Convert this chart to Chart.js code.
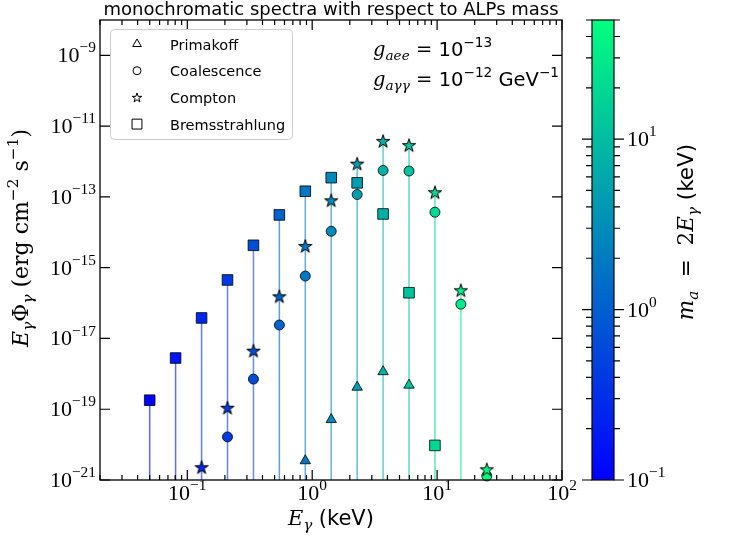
<!DOCTYPE html>
<html>
<head>
<meta charset="utf-8">
<script src="https://cdn.jsdelivr.net/npm/chart.js@4.4.1/dist/chart.umd.min.js"></script>
<style>
  body { margin: 0; background: #fff; }
</style>
</head>
<body>
<canvas id="chart" width="732" height="541"></canvas>
<script>
// photon energies E_gamma (keV), one per ALP mass m_a = 2 E_gamma
var energies = [0.05, 0.0806, 0.1301, 0.2098, 0.3385, 0.5459, 0.8804, 1.4201, 2.2904, 3.6942, 5.9584, 9.6101, 15.5, 25.0];

// E_gamma * Phi_gamma (erg cm^-2 s^-1), null = below the plot
var primakoff   = [null, null, null, null, null, null, 3.5e-21, 5.1e-20, 4.2e-19, 1.15e-18, 4.8e-19, null, null, null];
var coalescence = [null, null, null, 1.65e-20, 7.1e-19, 2.4e-17, 5.8e-16, 1.07e-14, 1.17e-13, 5.6e-13, 5.4e-13, 3.7e-14, 9.3e-17, 1.3e-21];
var compton     = [null, null, 2.3e-21, 1.1e-19, 4.5e-18, 1.55e-16, 4.1e-15, 8e-14, 8.7e-13, 3.8e-12, 2.9e-12, 1.35e-13, 2.3e-16, 2e-21];
var brems       = [1.8e-19, 2.8e-18, 3.8e-17, 4.5e-16, 4.3e-15, 3.1e-14, 1.45e-13, 3.5e-13, 2.5e-13, 3.3e-14, 1.96e-16, 9.5e-21, null, null];

var xTicks = [0.1, 1, 10, 100];
var yTicks = [1e-21, 1e-19, 1e-17, 1e-15, 1e-13, 1e-11, 1e-9];
var cbTicks = [0.1, 1, 10];
var xRange = [0.02, 100];
var yRange = [1e-21, 1e-8];
var massRange = [0.1, 50];

var SERIF = '"Liberation Serif", serif';
var WSERIF = '"DejaVu Serif", serif';
var SANS = '"DejaVu Sans", sans-serif';

// matplotlib "winter": blue -> spring green
function winter(m, alpha) {
    var t = Math.log(m / massRange[0]) / Math.log(massRange[1] / massRange[0]);
    t = Math.min(1, Math.max(0, t));
    var g = Math.round(255 * t), b = Math.round(255 * (1 - 0.5 * t));
    return 'rgba(0,' + g + ',' + b + ',' + (alpha == null ? 1 : alpha) + ')';
}

function starPath(ctx, x, y, r) {
    ctx.beginPath();
    for (var k = 0; k < 10; k++) {
        var rr = k % 2 ? r * 0.382 : r;
        var a = -Math.PI / 2 + k * Math.PI / 5;
        ctx.lineTo(x + rr * Math.cos(a), y + rr * Math.sin(a));
    }
    ctx.closePath();
}

function starImage(color) {
    var c = document.createElement('canvas');
    c.width = 18; c.height = 18;
    var g = c.getContext('2d');
    starPath(g, 9, 9.6, 7);
    g.fillStyle = color; g.fill();
    g.lineWidth = 1; g.strokeStyle = '#000'; g.stroke();
    return c;
}

function points(vals) {
    var out = [];
    vals.forEach(function (v, i) {
        if (v != null) out.push({x: energies[i], y: v});
    });
    return out;
}

function markerSet(label, vals, style, radius, order) {
    var pts = points(vals);
    return {
        label: label,
        data: pts,
        showLine: false,
        pointStyle: style === 'star' ? pts.map(function (p) { return starImage(winter(2 * p.x)); }) : style,
        pointRadius: radius,
        pointBackgroundColor: pts.map(function (p) { return winter(2 * p.x); }),
        pointBorderColor: '#000',
        pointBorderWidth: 0.8,
        clip: false,
        order: order
    };
}

var datasets = [];
// stems from the bottom of the axes up to the highest marker
energies.forEach(function (e, i) {
    var top = Math.max.apply(null, [primakoff[i], coalescence[i], compton[i], brems[i]].filter(function (v) { return v != null; }));
    datasets.push({
        type: 'line',
        label: 'stem' + i,
        data: [{x: e, y: yRange[0]}, {x: e, y: top}],
        borderColor: winter(2 * e, 0.62),
        borderWidth: 1.5,
        pointRadius: 0,
        order: 10
    });
});
datasets.push(markerSet('Primakoff', primakoff, 'triangle', 6, 4));
datasets.push(markerSet('Coalescence', coalescence, 'circle', 5, 3));
datasets.push(markerSet('Compton', compton, 'star', 6, 2));
datasets.push(markerSet('Bremsstrahlung', brems, 'rect', 7.5, 1));

// little text helper for the mathtext-like labels
// s: sans, w: wide serif, i: italic, p: 1 superscript / -1 subscript
function segFont(s, size) {
    var sz = s.p ? size * 0.7 : size;
    var fam = s.s ? SANS : (s.w ? WSERIF : SERIF);
    return (s.i ? 'italic ' : '') + sz + 'px ' + fam;
}
function richWidth(ctx, segs, size) {
    var w = 0;
    segs.forEach(function (s) { ctx.font = segFont(s, size); w += ctx.measureText(s.t).width; });
    return w;
}
function drawRich(ctx, segs, x, y, size, align) {
    var w = richWidth(ctx, segs, size);
    var cx = align === 'center' ? x - w / 2 : (align === 'right' ? x - w : x);
    ctx.textAlign = 'left';
    ctx.textBaseline = 'alphabetic';
    segs.forEach(function (s) {
        ctx.font = segFont(s, size);
        var dy = s.p === 1 ? -0.45 * size : (s.p === -1 ? 0.22 * size : 0);
        ctx.fillText(s.t, cx, y + dy);
        cx += ctx.measureText(s.t).width;
    });
}
function powLabel(v) {
    var e = Math.round(Math.log10(v));
    return [{t: '10'}, {t: String(e).replace('-', '\u2212'), p: 1}];
}

var decorations = {
    id: 'decorations',
    afterDraw: function (chart) {
        var ctx = chart.ctx, a = chart.chartArea;
        var xs = chart.scales.x, ys = chart.scales.y, cb = chart.scales.cb;
        ctx.save();
        ctx.fillStyle = '#000';
        ctx.strokeStyle = '#000';

        // frame
        ctx.lineWidth = 1.3;
        ctx.strokeRect(a.left, a.top, a.right - a.left, a.bottom - a.top);

        // ticks, inward on all four sides
        ctx.lineWidth = 1.2;
        ctx.beginPath();
        for (var d = 0.01; d < 200; d *= 10) {
            for (var k = 1; k < 10; k++) {
                var v = k * d;
                if (v < xRange[0] * 0.999 || v > xRange[1] * 1.001) continue;
                var px = xs.getPixelForValue(v);
                var len = k === 1 ? 10 : 5;
                ctx.moveTo(px, a.bottom); ctx.lineTo(px, a.bottom - len);
                ctx.moveTo(px, a.top); ctx.lineTo(px, a.top + len);
            }
        }
        yTicks.forEach(function (v) {
            var py = ys.getPixelForValue(v);
            ctx.moveTo(a.left, py); ctx.lineTo(a.left + 10, py);
            ctx.moveTo(a.right, py); ctx.lineTo(a.right - 10, py);
        });
        ctx.stroke();

        // tick labels
        yTicks.forEach(function (v) {
            drawRich(ctx, powLabel(v), 96, ys.getPixelForValue(v) + 7, 22, 'right');
        });
        xTicks.forEach(function (v) {
            drawRich(ctx, powLabel(v), xs.getPixelForValue(v), 500, 22, 'center');
        });

        // axis labels
        var cxm = (a.left + a.right) / 2;
        drawRich(ctx, [{t: 'E', i: 1, w: 1}, {t: '\u03b3', i: 1, w: 1, p: -1}, {t: ' (keV)', s: 1}], cxm, 525, 21, 'center');
        ctx.save();
        ctx.translate(28, 238);
        ctx.rotate(-Math.PI / 2);
        drawRich(ctx, [{t: 'E', i: 1, w: 1}, {t: '\u03b3', i: 1, w: 1, p: -1}, {t: '\u03a6', w: 1}, {t: '\u03b3', i: 1, w: 1, p: -1},
            {t: ' (erg cm', w: 1}, {t: '\u22122', w: 1, p: 1}, {t: ' s', w: 1}, {t: '\u22121', w: 1, p: 1}, {t: ')', w: 1}], 0, 0, 22, 'center');
        ctx.restore();

        // title
        ctx.font = '18px ' + SANS;
        ctx.textAlign = 'center';
        ctx.textBaseline = 'alphabetic';
        ctx.fillText('monochromatic spectra with respect to ALPs mass', cxm, 15);

        // coupling annotation
        drawRich(ctx, [{t: 'g', i: 1, w: 1}, {t: 'aee', i: 1, w: 1, p: -1}, {t: ' = ', w: 1}, {t: '10', s: 1}, {t: '\u221213', s: 1, p: 1}], 373, 56, 19.5, 'left');
        drawRich(ctx, [{t: 'g', i: 1, w: 1}, {t: 'a\u03b3\u03b3', i: 1, w: 1, p: -1}, {t: ' = ', w: 1}, {t: '10', s: 1}, {t: '\u221212', s: 1, p: 1},
            {t: ' GeV', s: 1}, {t: '\u22121', s: 1, p: 1}], 373, 86, 19.5, 'left');

        // legend
        var lx = 110, ly = 29, lw = 182, lh = 110;
        ctx.lineWidth = 1;
        ctx.beginPath();
        ctx.roundRect(lx + 0.5, ly + 0.5, lw, lh, 4);
        ctx.fillStyle = 'rgba(255,255,255,0.85)';
        ctx.fill();
        ctx.strokeStyle = '#cccccc';
        ctx.stroke();
        var names = ['Primakoff', 'Coalescence', 'Compton', 'Bremsstrahlung'];
        var styles = ['triangle', 'circle', 'star', 'rect'];
        var radii = [5, 4, 5, 7];
        names.forEach(function (n, j) {
            var ry = 44 + j * 26.7;
            ctx.strokeStyle = '#000';
            ctx.lineWidth = 1;
            if (styles[j] === 'star') {
                starPath(ctx, 137, ry + 0.5, radii[j]);
                ctx.stroke();
            } else {
                ctx.fillStyle = 'rgba(0,0,0,0)';
                Chart.helpers.drawPoint(ctx, {pointStyle: styles[j], radius: radii[j], borderWidth: 1}, 137, ry);
            }
            ctx.fillStyle = '#000';
            ctx.font = '14.5px ' + SANS;
            ctx.textAlign = 'left';
            ctx.fillText(n, 170, ry + 5.5);
        });

        // colorbar
        var bx0 = 592, bx1 = 614;
        var grad = ctx.createLinearGradient(0, cb.bottom, 0, cb.top);
        grad.addColorStop(0, winter(massRange[0]));
        grad.addColorStop(0.5, winter(Math.sqrt(massRange[0] * massRange[1])));
        grad.addColorStop(1, winter(massRange[1]));
        ctx.fillStyle = grad;
        ctx.fillRect(bx0, cb.top, bx1 - bx0, cb.bottom - cb.top);
        ctx.strokeStyle = '#000';
        ctx.lineWidth = 1.2;
        ctx.strokeRect(bx0, cb.top, bx1 - bx0, cb.bottom - cb.top);
        ctx.beginPath();
        for (var dd = 0.1; dd < 100; dd *= 10) {
            for (var kk = 1; kk < 10; kk++) {
                var mv = kk * dd;
                if (mv < massRange[0] * 0.999 || mv > massRange[1] * 1.001) continue;
                var py = cb.getPixelForValue(mv);
                var tl = kk === 1 ? 10 : 6;
                ctx.moveTo(bx0, py); ctx.lineTo(bx0 - tl, py);
                ctx.moveTo(bx1, py); ctx.lineTo(bx1 + tl, py);
            }
        }
        ctx.stroke();
        ctx.fillStyle = '#000';
        cbTicks.forEach(function (v) {
            drawRich(ctx, powLabel(v), 627, cb.getPixelForValue(v) + 7, 22, 'left');
        });
        ctx.save();
        ctx.translate(693, 232);
        ctx.rotate(-Math.PI / 2);
        drawRich(ctx, [{t: 'm', i: 1, w: 1}, {t: 'a', i: 1, w: 1, p: -1}, {t: '  =  2', w: 1}, {t: 'E', i: 1, w: 1}, {t: '\u03b3', i: 1, w: 1, p: -1},
            {t: ' (keV)', s: 1}], 0, 0, 21.5, 'center');
        ctx.restore();

        ctx.restore();
    }
};

new Chart(document.getElementById('chart').getContext('2d'), {
    type: 'scatter',
    data: {datasets: datasets},
    options: {
        responsive: false,
        animation: false,
        events: [],
        layout: {padding: {left: 100, right: 170, top: 20, bottom: 61}},
        plugins: {legend: {display: false}, tooltip: {enabled: false}, title: {display: false}},
        scales: {
            x: {type: 'logarithmic', min: xRange[0], max: xRange[1], display: false},
            y: {type: 'logarithmic', min: yRange[0], max: yRange[1], display: false},
            cb: {type: 'logarithmic', axis: 'y', position: 'right', min: massRange[0], max: massRange[1], display: false}
        }
    },
    plugins: [decorations]
});
</script>
</body>
</html>
